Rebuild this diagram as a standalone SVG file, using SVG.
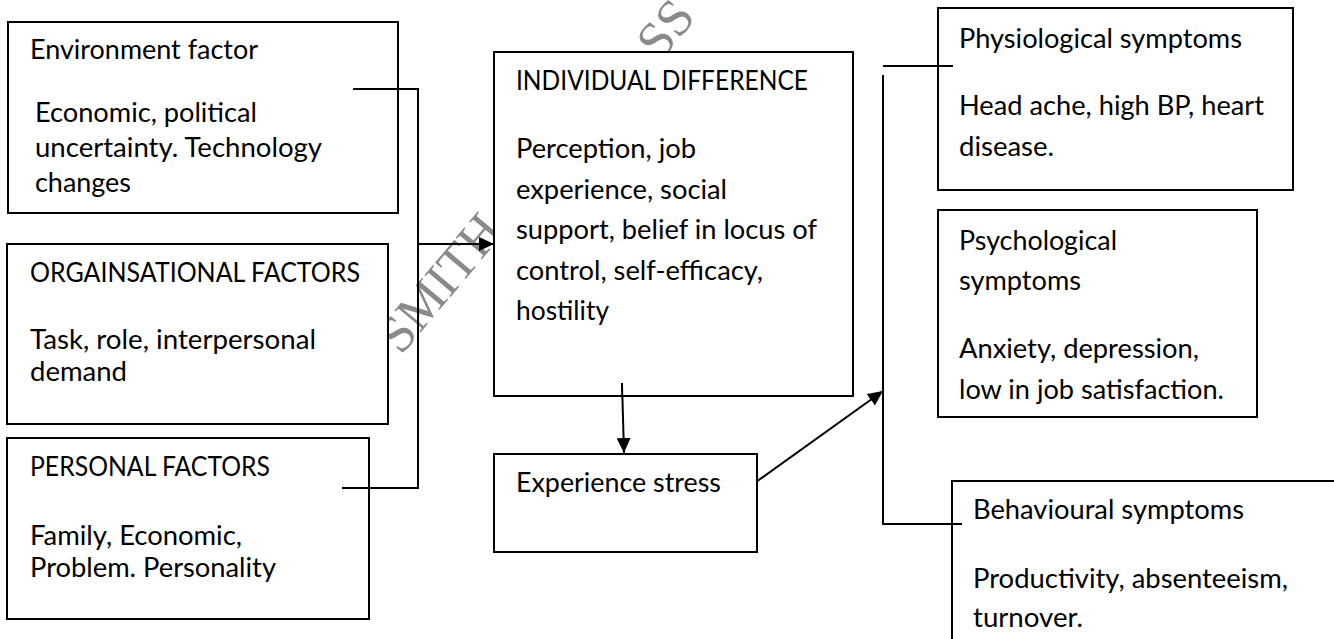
<svg xmlns="http://www.w3.org/2000/svg" width="1334" height="639" viewBox="0 0 1334 639">
  <style>
    .box { fill: #ffffff; stroke: #000000; stroke-width: 2; }
    .t { font-family: Lato, "Liberation Sans", sans-serif; font-size: 26px; fill: #000000; }
    .wire { fill: none; stroke: #000000; stroke-width: 2; }
    .mark { font-family: "Liberation Serif", serif; font-size: 52px; fill: #8a8a8a; }
  </style>
  <defs>
    <marker id="arrow" viewBox="0 0 15 14" refX="15" refY="7" markerWidth="15" markerHeight="14" markerUnits="userSpaceOnUse" orient="auto">
      <path d="M0,0 L15,7 L0,14 Z" fill="#000000"/>
    </marker>
  </defs>

  <rect width="1334" height="639" fill="#ffffff"/>

  <!-- background stamp, partly covered by the boxes -->
  <g id="stamp">
    <text class="mark" transform="translate(401 356) rotate(-50)">SMITH</text>
    <text class="mark" transform="translate(660 62) rotate(-50)">SS</text>
  </g>

  <!-- connectors -->
  <g id="connectors">
    <path class="wire" d="M353,89 H418 V488 H342"/>
    <path class="wire" d="M418,244 H494" marker-end="url(#arrow)"/>
    <path class="wire" d="M622,383 L624,453" marker-end="url(#arrow)"/>
    <path class="wire" d="M756,482 L883,391" marker-end="url(#arrow)"/>
    <path class="wire" d="M883,66 H953"/>
    <path class="wire" d="M883,75 V524 H962"/>
  </g>

  <g id="environment">
    <rect class="box" x="8" y="22" width="390" height="191"/>
    <text class="t" x="30" y="59" textLength="228" lengthAdjust="spacingAndGlyphs">Environment factor</text>
    <text class="t" x="35" y="122" textLength="222" lengthAdjust="spacingAndGlyphs">Economic, political</text>
    <text class="t" x="35" y="157" textLength="287" lengthAdjust="spacingAndGlyphs">uncertainty. Technology</text>
    <text class="t" x="35" y="192" textLength="96" lengthAdjust="spacingAndGlyphs">changes</text>
  </g>
  <path class="wire" d="M353,89 H398"/>

  <g id="organisational">
    <rect class="box" x="7" y="244" width="381" height="180"/>
    <text class="t" x="30" y="282" textLength="330" lengthAdjust="spacingAndGlyphs">ORGAINSATIONAL FACTORS</text>
    <text class="t" x="30" y="349" textLength="286" lengthAdjust="spacingAndGlyphs">Task, role, interpersonal</text>
    <text class="t" x="30" y="381" textLength="97" lengthAdjust="spacingAndGlyphs">demand</text>
  </g>

  <g id="personal">
    <rect class="box" x="7" y="438" width="362" height="181"/>
    <text class="t" x="30" y="476" textLength="240" lengthAdjust="spacingAndGlyphs">PERSONAL FACTORS</text>
    <text class="t" x="30" y="545" textLength="212" lengthAdjust="spacingAndGlyphs">Family, Economic,</text>
    <text class="t" x="30" y="577" textLength="246" lengthAdjust="spacingAndGlyphs">Problem. Personality</text>
  </g>
  <!-- bracket stub drawn over the personal box edge -->
  <path class="wire" d="M342,488 H369"/>

  <g id="individual">
    <rect class="box" x="494" y="52" width="359" height="344"/>
    <text class="t" x="516" y="90" textLength="292" lengthAdjust="spacingAndGlyphs">INDIVIDUAL DIFFERENCE</text>
    <text class="t" x="516" y="158" textLength="180" lengthAdjust="spacingAndGlyphs">Perception, job</text>
    <text class="t" x="516" y="199" textLength="211" lengthAdjust="spacingAndGlyphs">experience, social</text>
    <text class="t" x="516" y="239" textLength="301" lengthAdjust="spacingAndGlyphs">support, belief in locus of</text>
    <text class="t" x="516" y="280" textLength="247" lengthAdjust="spacingAndGlyphs">control, self-efficacy,</text>
    <text class="t" x="516" y="320" textLength="93" lengthAdjust="spacingAndGlyphs">hostility</text>
  </g>
  <path class="wire" d="M622,383 L622.2,396"/>

  <g id="stress">
    <rect class="box" x="494" y="454" width="263" height="98"/>
    <text class="t" x="516" y="492" textLength="205" lengthAdjust="spacingAndGlyphs">Experience stress</text>
  </g>

  <g id="physiological">
    <rect class="box" x="938" y="8" width="355" height="182"/>
    <text class="t" x="959" y="48" textLength="283" lengthAdjust="spacingAndGlyphs">Physiological symptoms</text>
    <text class="t" x="959" y="115" textLength="305" lengthAdjust="spacingAndGlyphs">Head ache, high BP, heart</text>
    <text class="t" x="959" y="156" textLength="95" lengthAdjust="spacingAndGlyphs">disease.</text>
  </g>
  <path class="wire" d="M938,66 H953"/>

  <g id="psychological">
    <rect class="box" x="938" y="210" width="319" height="207"/>
    <text class="t" x="959" y="250" textLength="158" lengthAdjust="spacingAndGlyphs">Psychological</text>
    <text class="t" x="959" y="290" textLength="122" lengthAdjust="spacingAndGlyphs">symptoms</text>
    <text class="t" x="959" y="358" textLength="240" lengthAdjust="spacingAndGlyphs">Anxiety, depression,</text>
    <text class="t" x="959" y="399" textLength="265" lengthAdjust="spacingAndGlyphs">low in job satisfaction.</text>
  </g>

  <g id="behavioural">
    <rect class="box" x="952" y="481" width="400" height="200"/>
    <text class="t" x="973" y="519" textLength="271" lengthAdjust="spacingAndGlyphs">Behavioural symptoms</text>
    <text class="t" x="973" y="588" textLength="315" lengthAdjust="spacingAndGlyphs">Productivity, absenteeism,</text>
    <text class="t" x="973" y="627" textLength="110" lengthAdjust="spacingAndGlyphs">turnover.</text>
  </g>
  <path class="wire" d="M952,524 H962"/>
</svg>
